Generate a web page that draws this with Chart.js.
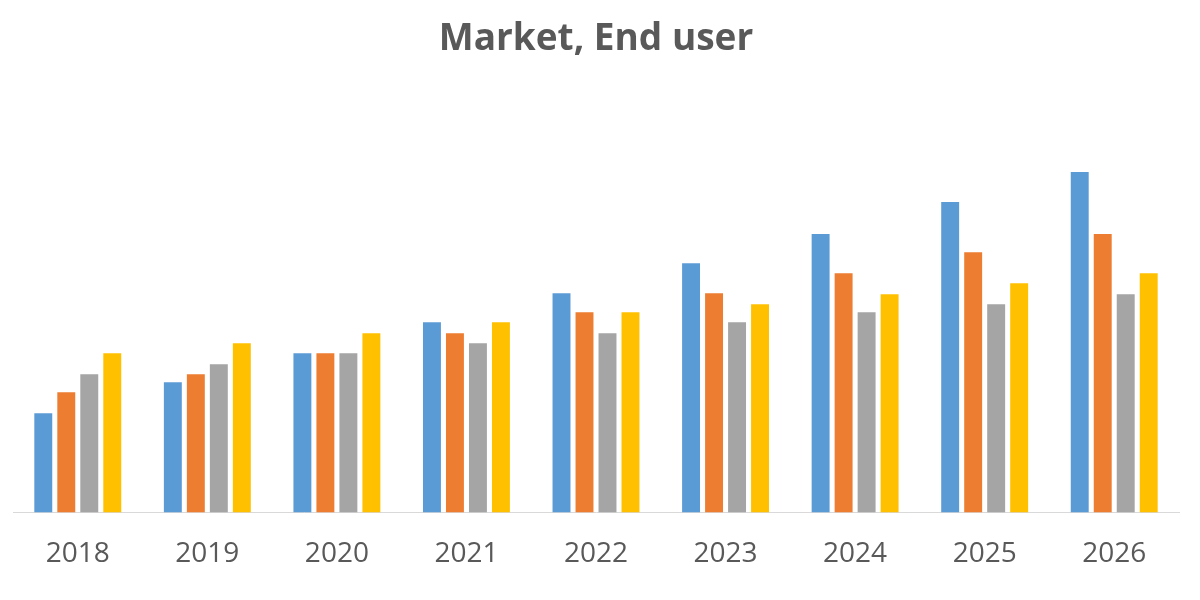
<!DOCTYPE html>
<html>
<head>
<meta charset="utf-8">
<script src="https://cdn.jsdelivr.net/npm/chart.js@4"></script>
<style>
   html, body { margin: 0; padding: 0; background: #fff; }
   #wrap { width: 1200px; height: 600px; }
</style>
</head>
<body>
<div id="wrap"><canvas id="chart" width="1200" height="600"></canvas></div>
<script>
const years = ["2018", "2019", "2020", "2021", "2022", "2023", "2024", "2025", "2026"]

// values (no axis in the original, units arbitrary)
const series1 = [9.9, 13.0, 15.9, 19.0, 21.9, 24.9, 27.8, 31.0, 34.0]
const series2 = [12.0, 13.8, 15.9, 17.9, 20.0, 21.9, 23.9, 26.0, 27.8]
const series3 = [13.8, 14.8, 15.9, 16.9, 17.9, 19.0, 20.0, 20.8, 21.8]
const series4 = [15.9, 16.9, 17.9, 19.0, 20.0, 20.8, 21.8, 22.9, 23.9]

const titleText = "Market, End user"

const colors = ["#5B9BD5", "#ED7D31", "#A5A5A5", "#FFC000"]

function makeSet(label, data, color) {
   return {
      label: label,
      data: data,
      backgroundColor: color,
      borderWidth: 0,
      categoryPercentage: 0.71,
      barPercentage: 0.78
   }
}

new Chart(document.getElementById("chart"), {
   type: "bar",
   data: {
      labels: years,
      datasets: [
         makeSet("Series 1", series1, colors[0]),
         makeSet("Series 2", series2, colors[1]),
         makeSet("Series 3", series3, colors[2]),
         makeSet("Series 4", series4, colors[3])
      ]
   },
   options: {
      responsive: false,
      animation: false,
      layout: {
         padding: { left: 13, right: 21, top: 0, bottom: 12 }
      },
      plugins: {
         legend: { display: false },
         tooltip: { enabled: false },
         title: {
            display: true,
            text: titleText,
            color: "#595959",
            font: { family: "'Open Sans'", size: 37, weight: "bold", lineHeight: 1.2 },
            padding: { top: 17, bottom: 50.6 }
         }
      },
      scales: {
         x: {
            grid: { display: false },
            border: { display: true, color: "#D9D9D9", width: 1 },
            ticks: {
               color: "#595959",
               font: { family: "'Open Sans'", size: 28, lineHeight: 1.2 },
               padding: 17,
               maxRotation: 0
            }
         },
         y: {
            display: false,
            min: 0,
            max: 40
         }
      }
   }
})
</script>
</body>
</html>
